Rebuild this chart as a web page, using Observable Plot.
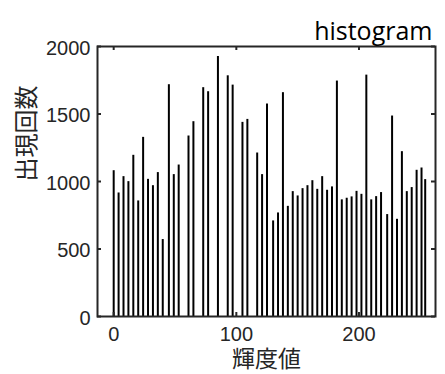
<!DOCTYPE html>
<html><head><meta charset="utf-8">
<script src="https://cdn.jsdelivr.net/npm/d3@7"></script>
<script src="https://cdn.jsdelivr.net/npm/@observablehq/plot@0.6"></script>
<style>
html,body{margin:0;padding:0;background:#fff;}
</style></head><body><div id="chart"></div>
<script>
// brightness levels (輝度値) that occur, and their counts (出現回数)
const levels = [0,4,8,12,16,20,24,28,32,36,40,
  45,49,53,61,65,73,77,85,
  93,97,105,109,117,121,125,130,
  134,138,142,146,150,154,158,162,166,170,174,
  178,182,186,190,194,198,202,206,210,214,218,
  223,227,231,235,239,243,247,251,254];
const counts = [1080,915,1036,999,1194,856,1327,1016,969,1066,570,
  1717,1051,1122,1337,1443,1695,1665,1926,
  1783,1714,1438,1460,1211,1051,1574,708,
  767,1658,816,925,893,947,969,1006,942,1036,935,
  960,1744,864,876,886,927,905,1788,864,888,918,
  755,1485,720,1221,925,955,1083,1100,1014];
const xTicks = [0,100,200];
const yTicks = [0,500,1000,1500,2000];
const titleText = "histogram";
const xLabel = "輝度値";
const yLabel = "出現回数";

const data = levels.map((x,i)=>({x, count: counts[i]}));
const W=445,H=374, mL=97, mR=10, mT=46, mB=58;
const innerW = W-mL-mR, innerH = H-mT-mB;
const tick = 4;
const ink = "#262626";
const cjk = "'Noto Sans CJK JP', sans-serif";

const chart = Plot.plot({
  width: W, height: H,
  marginLeft: mL, marginRight: mR, marginTop: mT, marginBottom: mB,
  x: {domain: [-13.2, 262.4]},
  y: {domain: [0, 2000]},
  style: {background: "white", color: ink, fontFamily: "'Liberation Sans', Arial, sans-serif", fontSize: "20px"},
  marks: [
    Plot.ruleX(data, {x: "x", y1: 0, y2: "count", stroke: "black", strokeWidth: 2}),
    Plot.frame({stroke: ink, strokeWidth: 2}),
    Plot.tickX(xTicks, {x: d => d, stroke: ink, strokeWidth: 2, insetTop: innerH - tick}),
    Plot.tickX(xTicks, {x: d => d, stroke: ink, strokeWidth: 2, insetBottom: innerH - tick}),
    Plot.tickY(yTicks, {y: d => d, stroke: ink, strokeWidth: 2, insetRight: innerW - tick}),
    Plot.tickY(yTicks, {y: d => d, stroke: ink, strokeWidth: 2, insetLeft: innerW - tick}),
    Plot.axisX({ticks: xTicks, tickSize: 0, tickPadding: 10, tickFormat: d => String(d), label: null, fontSize: 20}),
    Plot.axisY({ticks: yTicks, tickSize: 0, tickPadding: 7, dy: 2, tickFormat: d => String(d), label: null, fontSize: 20}),
    Plot.text([yLabel], {frameAnchor: "left", lineAnchor: "middle", dx: -70, rotate: -90, fontSize: 24, fontFamily: cjk, fill: ink}),
    Plot.text([xLabel], {frameAnchor: "bottom", lineAnchor: "middle", dy: 43, fontSize: 23, fontFamily: cjk, fill: ink}),
    Plot.text([titleText], {frameAnchor: "top-right", lineAnchor: "middle", dx: -3, dy: -15, textAnchor: "end", fontSize: 25, fontFamily: "'Open Sans', sans-serif", fill: "black"})
  ]
});
document.getElementById("chart").appendChild(chart);
</script></body></html>
